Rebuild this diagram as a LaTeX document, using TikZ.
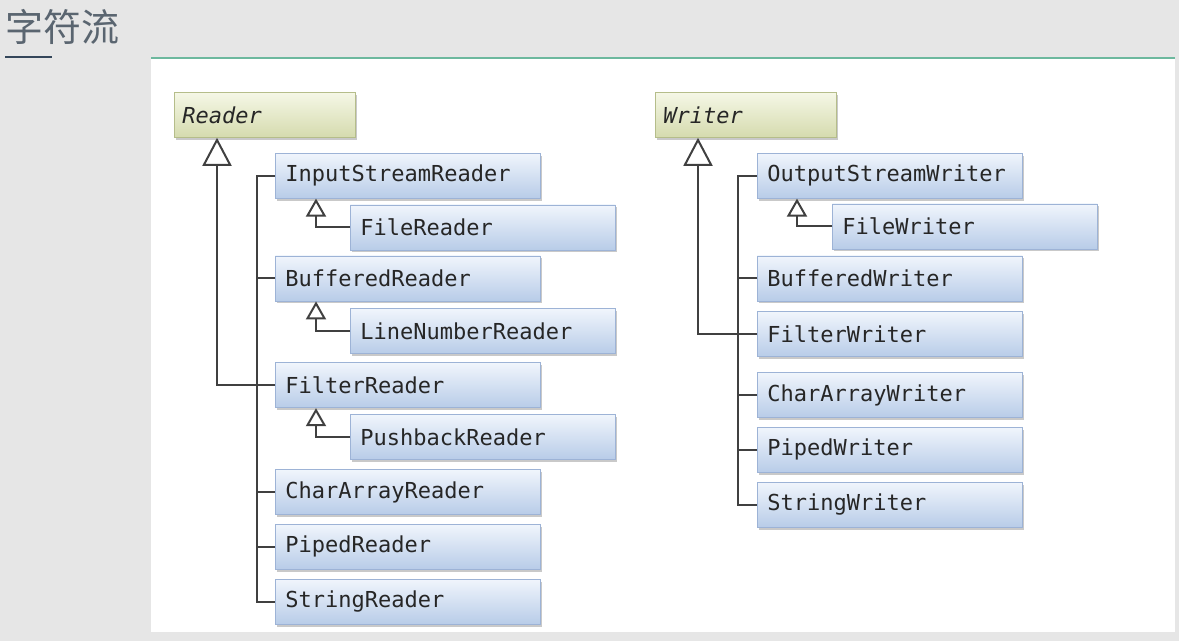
\documentclass[tikz,border=0pt]{standalone}
\usepackage{fontspec}
\setmonofont{DejaVu Sans Mono}
\newfontfamily\cjk{Noto Sans CJK SC}
\usepackage{xcolor}
\usepackage{tikz}
\usetikzlibrary{positioning,arrows.meta,shadows}

\definecolor{boxtop}{HTML}{F0F5FC}
\definecolor{boxbot}{HTML}{B8CCE8}
\definecolor{boxline}{HTML}{9DB3D6}
\definecolor{roottop}{HTML}{F5F7E6}
\definecolor{rootbot}{HTML}{D5DBAE}
\definecolor{rootline}{HTML}{B5BD8A}
\definecolor{wirecol}{HTML}{404040}
\definecolor{pagebg}{HTML}{E6E6E6}
\definecolor{rulecol}{HTML}{6DB89E}
\definecolor{titlecol}{HTML}{5A6570}
\definecolor{barcol}{HTML}{34465A}

\tikzset{
  classbox/.style={rectangle, draw=boxline, top color=boxtop, bottom color=boxbot, text width=122.5pt, inner xsep=5pt, minimum height=22.5pt, align=left, font=\ttfamily\fontsize{11}{13}\selectfont, text=black!85, drop shadow={shadow xshift=1pt, shadow yshift=-1.2pt, fill=gray!70, opacity=.6}},
  rootbox/.style={classbox, draw=rootline, top color=roottop, bottom color=rootbot, text width=82.5pt, inner xsep=4pt, font=\ttfamily\itshape\fontsize{11}{13}\selectfont},
  extends/.style={draw=wirecol, line width=1pt, -{Triangle[open, length=14pt, width=14.5pt, fill=white]}},
  subext/.style={draw=wirecol, line width=1pt, -{Triangle[open, length=9pt, width=10pt, fill=white]}},
  wire/.style={draw=wirecol, line width=1pt}
}

\begin{document}
\begin{tikzpicture}[x=0.5pt, y=-0.5pt]
        \useasboundingbox (0,0) rectangle (1179,641);
        \fill[pagebg] (0,0) rectangle (1179,641);
        \fill[white] (151,58) rectangle (1175,632);
        \draw[rulecol, line width=1pt] (151,58) -- (1175,58);

        \node (title) [anchor=west, inner sep=0pt, text=titlecol, font=\cjk\fontsize{19}{22}\selectfont] at (5,27) {字符流};
        \draw[barcol, line width=1.2pt] (5,57) -- (52,57);

        % Reader side
        \node (reader) [rootbox, anchor=north west] at (174,92) {Reader};
        \node (isr) [classbox, below right=7.5pt and 50.5pt of reader.south west] {InputStreamReader};
        \node (fr) [classbox, below right=3pt and 37.5pt of isr.south west] {FileReader};
        \node (br) [classbox, below=28.5pt of isr] {BufferedReader};
        \node (lnr) [classbox, below right=3.5pt and 37.5pt of br.south west] {LineNumberReader};
        \node (fir) [classbox, below=30.5pt of br] {FilterReader};
        \node (pbr) [classbox, below right=3pt and 37.5pt of fir.south west] {PushbackReader};
        \node (car) [classbox, below=30.5pt of fir] {CharArrayReader};
        \node (pir) [classbox, below=4.5pt of car] {PipedReader};
        \node (sr) [classbox, below=4.5pt of pir] {StringReader};

        \draw[extends] (fir.west) -| ([xshift=21.5pt]reader.south west);
        \draw[wire] (isr.west) -- ++(-9pt,0) |- (sr.west);
        \draw[wire] (br.west) -- ++(-9pt,0);
        \draw[wire] (car.west) -- ++(-9pt,0);
        \draw[wire] (pir.west) -- ++(-9pt,0);
        \draw[subext] (fr.west) -| ([xshift=20.5pt]isr.south west);
        \draw[subext] (lnr.west) -| ([xshift=20.5pt]br.south west);
        \draw[subext] (pbr.west) -| ([xshift=20.5pt]fir.south west);

        % Writer side
        \node (writer) [rootbox, anchor=north west] at (655,92) {Writer};
        \node (osw) [classbox, below right=7.5pt and 51pt of writer.south west] {OutputStreamWriter};
        \node (fw) [classbox, below right=2.5pt and 37.5pt of osw.south west] {FileWriter};
        \node (bw) [classbox, below=28.5pt of osw] {BufferedWriter};
        \node (fiw) [classbox, below=5pt of bw] {FilterWriter};
        \node (caw) [classbox, below=7.5pt of fiw] {CharArrayWriter};
        \node (pw) [classbox, below=4.5pt of caw] {PipedWriter};
        \node (sw) [classbox, below=4.5pt of pw] {StringWriter};

        \draw[extends] (fiw.west) -| ([xshift=21.5pt]writer.south west);
        \draw[wire] (osw.west) -- ++(-9.5pt,0) |- (sw.west);
        \draw[wire] (bw.west) -- ++(-9.5pt,0);
        \draw[wire] (caw.west) -- ++(-9.5pt,0);
        \draw[wire] (pw.west) -- ++(-9.5pt,0);
        \draw[subext] (fw.west) -| ([xshift=20pt]osw.south west);
    \end{tikzpicture}
\end{document}
